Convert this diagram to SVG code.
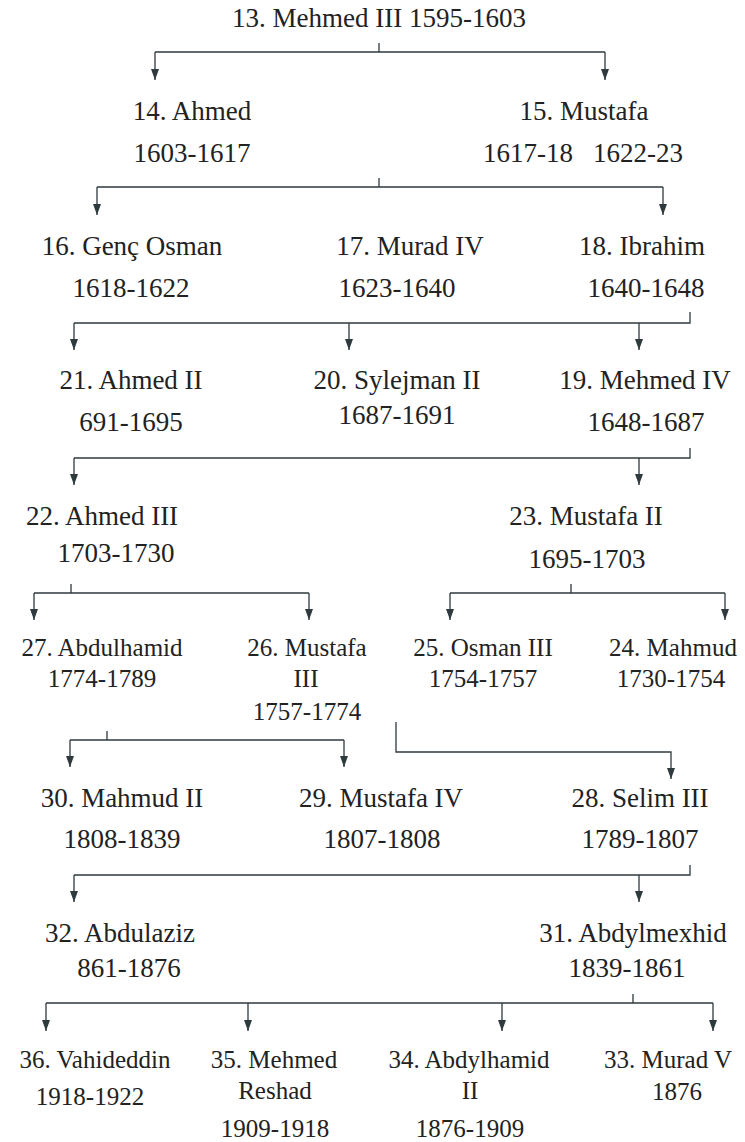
<svg xmlns="http://www.w3.org/2000/svg" width="745" height="1142" viewBox="0 0 745 1142">
<style>
text{font-family:"Liberation Serif","Times New Roman",serif;fill:#222;text-anchor:middle}
.n{font-size:27px}
.s{font-size:25px}
.ln{fill:none;stroke:#2f3a3f;stroke-width:1.3}
.ar{fill:none;stroke:#2f3a3f;stroke-width:1.3;marker-end:url(#ah)}
</style>
<defs>
<marker id="ah" markerUnits="userSpaceOnUse" viewBox="0 0 11 8" markerWidth="11" markerHeight="8" refX="11" refY="4" orient="auto">
<path d="M0,0 L11,4 L0,8 z" fill="#2f3a3f"/>
</marker>
</defs>
<rect width="745" height="1142" fill="#fff"/>
<g id="connectors">
<path class="ln" d="M379,43 V52 M155,52 H605"/>
<path class="ar" d="M155,52 V80"/><path class="ar" d="M605,52 V80"/>
<path class="ln" d="M379,178 V187 M97,187 H663"/>
<path class="ar" d="M97,187 V215"/><path class="ar" d="M663,187 V215"/>
<path class="ln" d="M690,312 V323 H74"/>
<path class="ar" d="M74,323 V350"/><path class="ar" d="M349,323 V350"/><path class="ar" d="M639,323 V350"/>
<path class="ln" d="M690,448 V458 H74"/>
<path class="ar" d="M74,458 V485"/><path class="ar" d="M639,458 V485"/>
<path class="ln" d="M71,584 V593 M34,593 H309"/>
<path class="ar" d="M34,593 V620"/><path class="ar" d="M309,593 V620"/>
<path class="ln" d="M571,584 V593 M450,593 H725"/>
<path class="ar" d="M450,593 V620"/><path class="ar" d="M725,593 V620"/>
<path class="ar" d="M396,722 V752 H671 V779"/>
<path class="ln" d="M107,731 V740 M70,740 H344"/>
<path class="ar" d="M70,740 V767"/><path class="ar" d="M344,740 V767"/>
<path class="ln" d="M690,865 V875 H74"/>
<path class="ar" d="M74,875 V902"/><path class="ar" d="M639,875 V902"/>
<path class="ln" d="M633,994 V1003 M46,1003 H713"/>
<path class="ar" d="M46,1003 V1031"/><path class="ar" d="M248,1003 V1031"/><path class="ar" d="M502,1003 V1031"/><path class="ar" d="M713,1003 V1031"/>
</g>
<g id="n13"><text class="n" x="379" y="27">13. Mehmed III 1595-1603</text></g>
<g id="n14"><text class="n" x="192" y="120">14. Ahmed</text><text class="n" x="192" y="162">1603-1617</text></g>
<g id="n15"><text class="n" x="584" y="120">15. Mustafa</text><text class="n" x="528" y="162">1617-18</text><text class="n" x="638" y="162">1622-23</text></g>
<g id="n16"><text class="n" x="132" y="255">16. Genç Osman</text><text class="n" x="131" y="297">1618-1622</text></g>
<g id="n17"><text class="n" x="410" y="255">17. Murad IV</text><text class="n" x="397" y="297">1623-1640</text></g>
<g id="n18"><text class="n" x="642" y="255">18. Ibrahim</text><text class="n" x="646" y="297">1640-1648</text></g>
<g id="n21"><text class="n" x="131" y="389">21. Ahmed II</text><text class="n" x="131" y="431">691-1695</text></g>
<g id="n20"><text class="n" x="397" y="389">20. Sylejman II</text><text class="n" x="397" y="424">1687-1691</text></g>
<g id="n19"><text class="n" x="645" y="389">19. Mehmed IV</text><text class="n" x="646" y="431">1648-1687</text></g>
<g id="n22"><text class="n" x="102" y="525">22. Ahmed III</text><text class="n" x="116" y="562">1703-1730</text></g>
<g id="n23"><text class="n" x="586" y="525">23. Mustafa II</text><text class="n" x="587" y="568">1695-1703</text></g>
<g id="n27"><text class="s" x="102" y="656">27. Abdulhamid</text><text class="s" x="102" y="687">1774-1789</text></g>
<g id="n26"><text class="s" x="307" y="656">26. Mustafa</text><text class="s" x="306" y="687">III</text><text class="s" x="307" y="720">1757-1774</text></g>
<g id="n25"><text class="s" x="483" y="656">25. Osman III</text><text class="s" x="483" y="687">1754-1757</text></g>
<g id="n24"><text class="s" x="673" y="656">24. Mahmud</text><text class="s" x="671" y="687">1730-1754</text></g>
<g id="n30"><text class="n" x="122" y="807">30. Mahmud II</text><text class="n" x="122" y="848">1808-1839</text></g>
<g id="n29"><text class="n" x="381" y="807">29. Mustafa IV</text><text class="n" x="382" y="848">1807-1808</text></g>
<g id="n28"><text class="n" x="640" y="807">28. Selim III</text><text class="n" x="640" y="848">1789-1807</text></g>
<g id="n32"><text class="n" x="120" y="942">32. Abdulaziz</text><text class="n" x="129" y="977">861-1876</text></g>
<g id="n31"><text class="n" x="633" y="942">31. Abdylmexhid</text><text class="n" x="627" y="977">1839-1861</text></g>
<g id="n36"><text class="s" x="95" y="1068">36. Vahideddin</text><text class="s" x="90" y="1105">1918-1922</text></g>
<g id="n35"><text class="s" x="274" y="1068">35. Mehmed</text><text class="s" x="275" y="1099">Reshad</text><text class="s" x="275" y="1137">1909-1918</text></g>
<g id="n34"><text class="s" x="469" y="1068">34. Abdylhamid</text><text class="s" x="470" y="1099">II</text><text class="s" x="470" y="1137">1876-1909</text></g>
<g id="n33"><text class="s" x="668" y="1068">33. Murad V</text><text class="s" x="677" y="1100">1876</text></g>
</svg>
